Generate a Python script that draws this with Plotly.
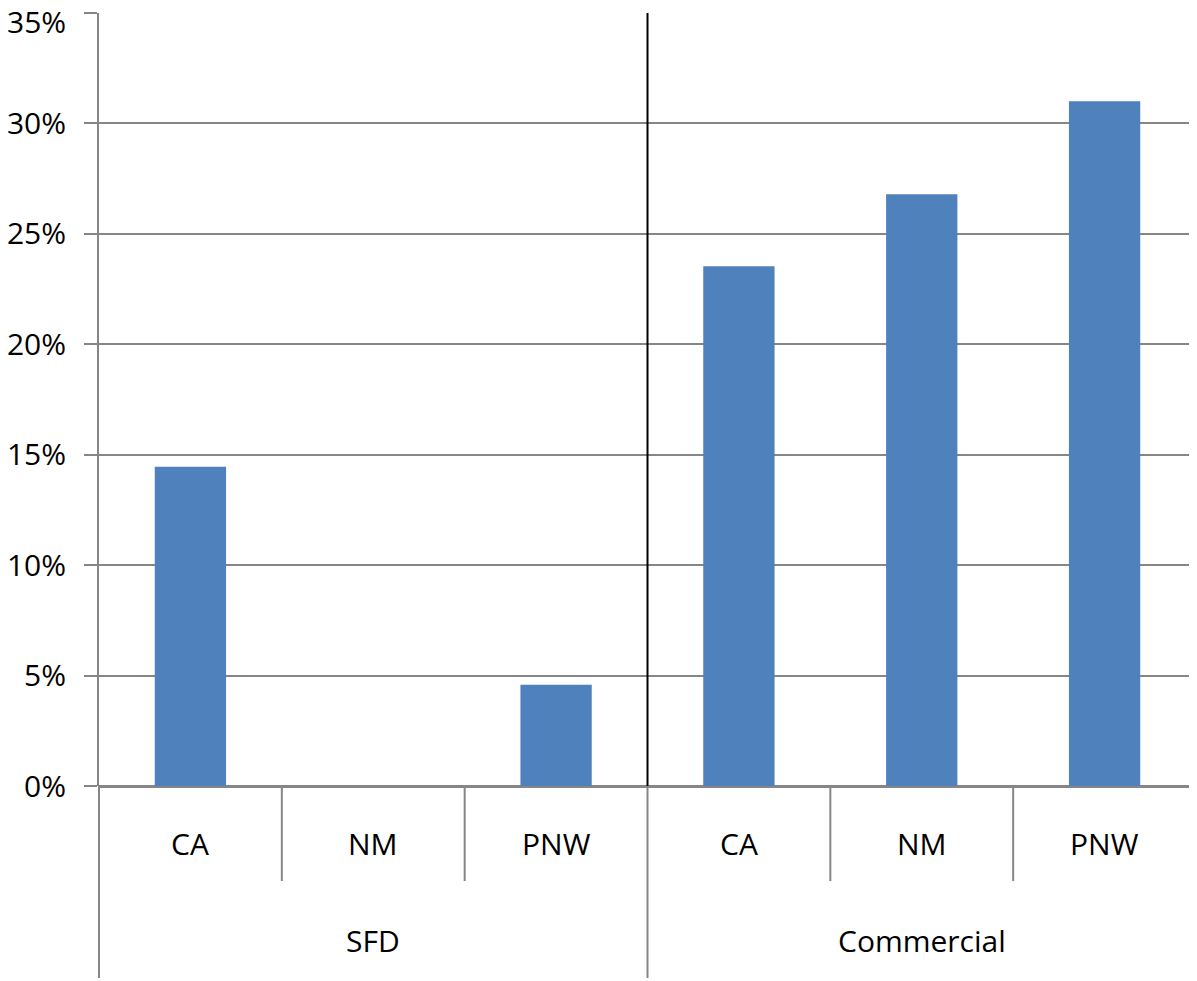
import plotly.graph_objects as go

groups = ["SFD", "SFD", "SFD", "Commercial", "Commercial", "Commercial"]
regions = ["CA", "NM", "PNW", "CA", "NM", "PNW"]
values = [0.1446, 0.0, 0.0458, 0.2353, 0.2679, 0.3100]
group_names = ["SFD", "Commercial"]
y_ticks = [0.0, 0.05, 0.10, 0.15, 0.20, 0.25, 0.30, 0.35]
y_tick_text = ["0%", "5%", "10%", "15%", "20%", "25%", "30%", "35%"]

n = len(regions)
idx = list(range(n))
GRAY = "#868686"
FONT = "Open Sans"
FS = 30

fig = go.Figure(go.Bar(
    x=idx, y=values, marker=dict(color="#4F81BD", line=dict(width=0)),
    width=0.39, hoverinfo="y",
))

PLOT_H = 773.0
def below(px):
    return -px / PLOT_H

shapes = []
annotations = []
for k in range(1, n):
    is_group_break = groups[k] != groups[k - 1]
    shapes.append(dict(type="line", xref="paper", yref="paper",
                       x0=k / n, x1=k / n, y0=0, y1=below(192 if is_group_break else 95),
                       line=dict(color=GRAY, width=2)))
for xe in (0, 1):
    shapes.append(dict(type="line", xref="paper", yref="paper",
                       x0=xe, x1=xe, y0=0, y1=below(192), line=dict(color=GRAY, width=2)))
for k in range(1, n):
    if groups[k] != groups[k - 1]:
        shapes.append(dict(type="line", xref="paper", yref="paper",
                           x0=k / n, x1=k / n, y0=0, y1=1,
                           line=dict(color="black", width=2)))

for i, r in enumerate(regions):
    annotations.append(dict(x=i, y=below(57), xref="x", yref="paper", text=r,
                            showarrow=False, font=dict(family=FONT, size=FS, color="black"),
                            xanchor="center", yanchor="middle"))
for g in group_names:
    members = [i for i in idx if groups[i] == g]
    annotations.append(dict(x=sum(members) / len(members), y=below(154), xref="x", yref="paper",
                            text=g, showarrow=False,
                            font=dict(family=FONT, size=FS, color="black"),
                            xanchor="center", yanchor="middle"))

# top tick label nudged down so it stays inside the figure (as in the reference)
annotations.append(dict(x=0, y=y_ticks[-1], xref="paper", yref="y", text=y_tick_text[-1],
                        showarrow=False, xanchor="right", yanchor="middle",
                        xshift=-32, yshift=-8, borderpad=0,
                        font=dict(family=FONT, size=FS, color="black")))
axis_text = y_tick_text[:-1] + [""]

fig.update_layout(
    width=1189, height=973,
    margin=dict(l=91, r=1, t=5, b=195),
    paper_bgcolor="white", plot_bgcolor="white",
    showlegend=False,
    font=dict(family=FONT, size=FS, color="black"),
    shapes=shapes, annotations=annotations,
    xaxis=dict(range=[-0.5, n - 0.5], showticklabels=False, showgrid=False,
               zeroline=False, showline=False, ticks="", fixedrange=True,
               automargin=False),
    yaxis=dict(range=[0, 0.35], tickmode="array", tickvals=y_ticks, ticktext=axis_text,
               showgrid=True, gridcolor=GRAY, gridwidth=2,
               zeroline=True, zerolinecolor=GRAY, zerolinewidth=3,
               showline=True, linecolor=GRAY, linewidth=2,
               ticks="outside", ticklen=13, tickcolor=GRAY, tickwidth=2,
               ticklabelstandoff=12, automargin=False, ticklabeloverflow="allow",
               tickfont=dict(family=FONT, size=FS, color="black")),
)

fig.write_html("out.html")
